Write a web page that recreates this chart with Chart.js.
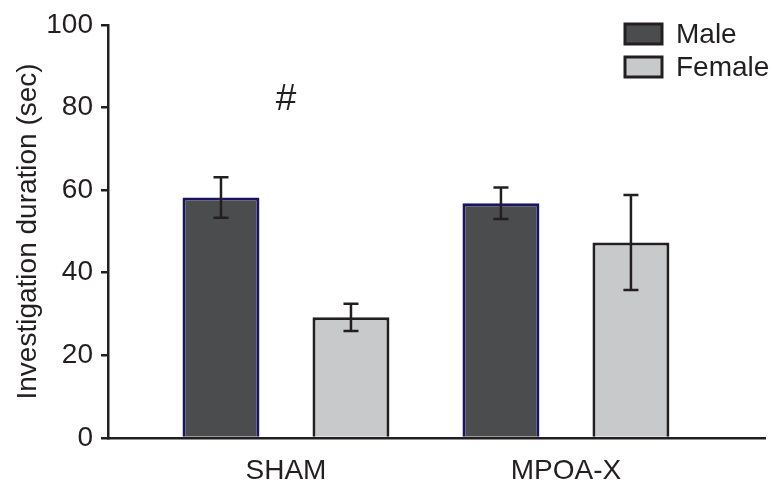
<!DOCTYPE html>
<html>
<head>
<meta charset="utf-8">
<script src="https://cdn.jsdelivr.net/npm/chart.js@4/dist/chart.umd.min.js"></script>
<style>
  html, body { margin: 0; padding: 0; background: #ffffff; }
  #wrap { width: 775px; height: 488px; position: relative; }
</style>
</head>
<body>
<div id="wrap"><canvas id="c" width="775" height="488"></canvas></div>
<script>
// ---- data ----
const categories = ['SHAM', 'MPOA-X'];
const seriesNames = ['Male', 'Female'];
const maleMeans = [58.2, 56.8];
const maleErr = [4.9, 3.8];
const femaleMeans = [29.2, 47.3];
const femaleErr = [3.3, 11.5];
const yTicks = [0, 20, 40, 60, 80, 100];
const annotationText = '#';
const annotationCategory = 0;
const annotationValue = 79.5;

const INK = '#231f20';
const FONT = "'Liberation Sans', Arial, Helvetica, sans-serif";
const FS = 28;

const errors = [maleErr, femaleErr];

const errorBarPlugin = {
  id: 'errorBars',
  afterDatasetsDraw(chart) {
    const ctx = chart.ctx;
    const yScale = chart.scales.y;
    ctx.save();
    ctx.strokeStyle = INK;
    ctx.lineWidth = 2.5;
    chart.data.datasets.forEach((ds, di) => {
      const meta = chart.getDatasetMeta(di);
      meta.data.forEach((bar, i) => {
        const v = ds.data[i].y;
        const e = errors[di][i];
        const x = bar.x;
        const yTop = yScale.getPixelForValue(v + e);
        const yBot = yScale.getPixelForValue(v - e);
        const cap = 7.5;
        ctx.beginPath();
        ctx.moveTo(x, yTop); ctx.lineTo(x, yBot);
        ctx.moveTo(x - cap, yTop); ctx.lineTo(x + cap, yTop);
        ctx.moveTo(x - cap, yBot); ctx.lineTo(x + cap, yBot);
        ctx.stroke();
      });
    });
    ctx.restore();
  }
};

const annotationPlugin = {
  id: 'hashMark',
  afterDraw(chart) {
    const ctx = chart.ctx;
    const x = chart.scales.x.getPixelForValue(annotationCategory);
    const y = chart.scales.y.getPixelForValue(annotationValue);
    ctx.save();
    ctx.fillStyle = INK;
    ctx.font = '37px ' + FONT;
    ctx.textAlign = 'center';
    ctx.textBaseline = 'alphabetic';
    ctx.fillText(annotationText, x, y);
    ctx.restore();
  }
};

const legendPlugin = {
  id: 'boxLegend',
  afterDraw(chart) {
    const ctx = chart.ctx;
    ctx.save();
    ctx.font = FS + 'px ' + FONT;
    ctx.textBaseline = 'middle';
    ctx.textAlign = 'left';
    chart.data.datasets.forEach((ds, i) => {
      const bx = 625, by = 24 + i * 33, bw = 37, bh = 20;
      ctx.fillStyle = ds.backgroundColor;
      ctx.fillRect(bx, by, bw, bh);
      ctx.strokeStyle = INK;
      ctx.lineWidth = 3;
      ctx.strokeRect(bx, by, bw, bh);
      ctx.fillStyle = INK;
      ctx.fillText(ds.label, 676, by + bh / 2 + 1);
    });
    ctx.restore();
  }
};

const toPoints = (arr) => arr.map((v, i) => ({ x: i, y: v }));

const chart = new Chart(document.getElementById('c'), {
  type: 'bar',
  data: {
    datasets: [
      {
        label: seriesNames[0],
        data: toPoints(maleMeans),
        backgroundColor: '#4b4c4e',
        borderColor: '#1b1464',
        borderWidth: 3,
        categoryPercentage: 0.9286,
        barPercentage: 0.592
      },
      {
        label: seriesNames[1],
        data: toPoints(femaleMeans),
        backgroundColor: '#c8c9cb',
        borderColor: INK,
        borderWidth: 3,
        categoryPercentage: 0.9286,
        barPercentage: 0.592
      }
    ]
  },
  options: {
    responsive: false,
    animation: false,
    devicePixelRatio: 1,
    layout: { padding: { top: 20, right: 10, bottom: 0, left: 0 } },
    plugins: {
      legend: { display: false },
      tooltip: { enabled: false }
    },
    scales: {
      x: {
        type: 'linear',
        offset: false,
        bounds: 'data',
        grace: 0,
        min: -0.6357,
        max: 1.711,
        afterDataLimits(s) { s.min = -0.6357; s.max = 1.711; },
        afterFit(s) { s.height = 50; },
        afterBuildTicks(s) { s.ticks = categories.map((c, i) => ({ value: i })); },
        grid: { display: true, drawOnChartArea: false, drawTicks: false },
        border: { display: true, color: INK, width: 2.5 },
        ticks: {
          color: INK,
          font: { family: FONT, size: FS },
          padding: 16,
          maxRotation: 0,
          autoSkip: false,
          callback: (v) => categories[v] !== undefined ? categories[v] : ''
        }
      },
      y: {
        min: 0,
        max: 100,
        afterFit(s) { s.width = 108; },
        afterBuildTicks(s) { s.ticks = yTicks.map(v => ({ value: v })); },
        grid: { display: true, drawOnChartArea: false, drawTicks: true, tickLength: 7, color: INK, lineWidth: 2.5 },
        border: { display: true, color: INK, width: 2.5 },
        ticks: {
          color: INK,
          font: { family: FONT, size: FS },
          padding: 8
        },
        title: {
          display: true,
          text: 'Investigation duration (sec)',
          color: INK,
          font: { family: FONT, size: FS },
          padding: { top: 11, bottom: 0 }
        }
      }
    }
  },
  plugins: [errorBarPlugin, annotationPlugin, legendPlugin]
});
</script>
</body>
</html>
